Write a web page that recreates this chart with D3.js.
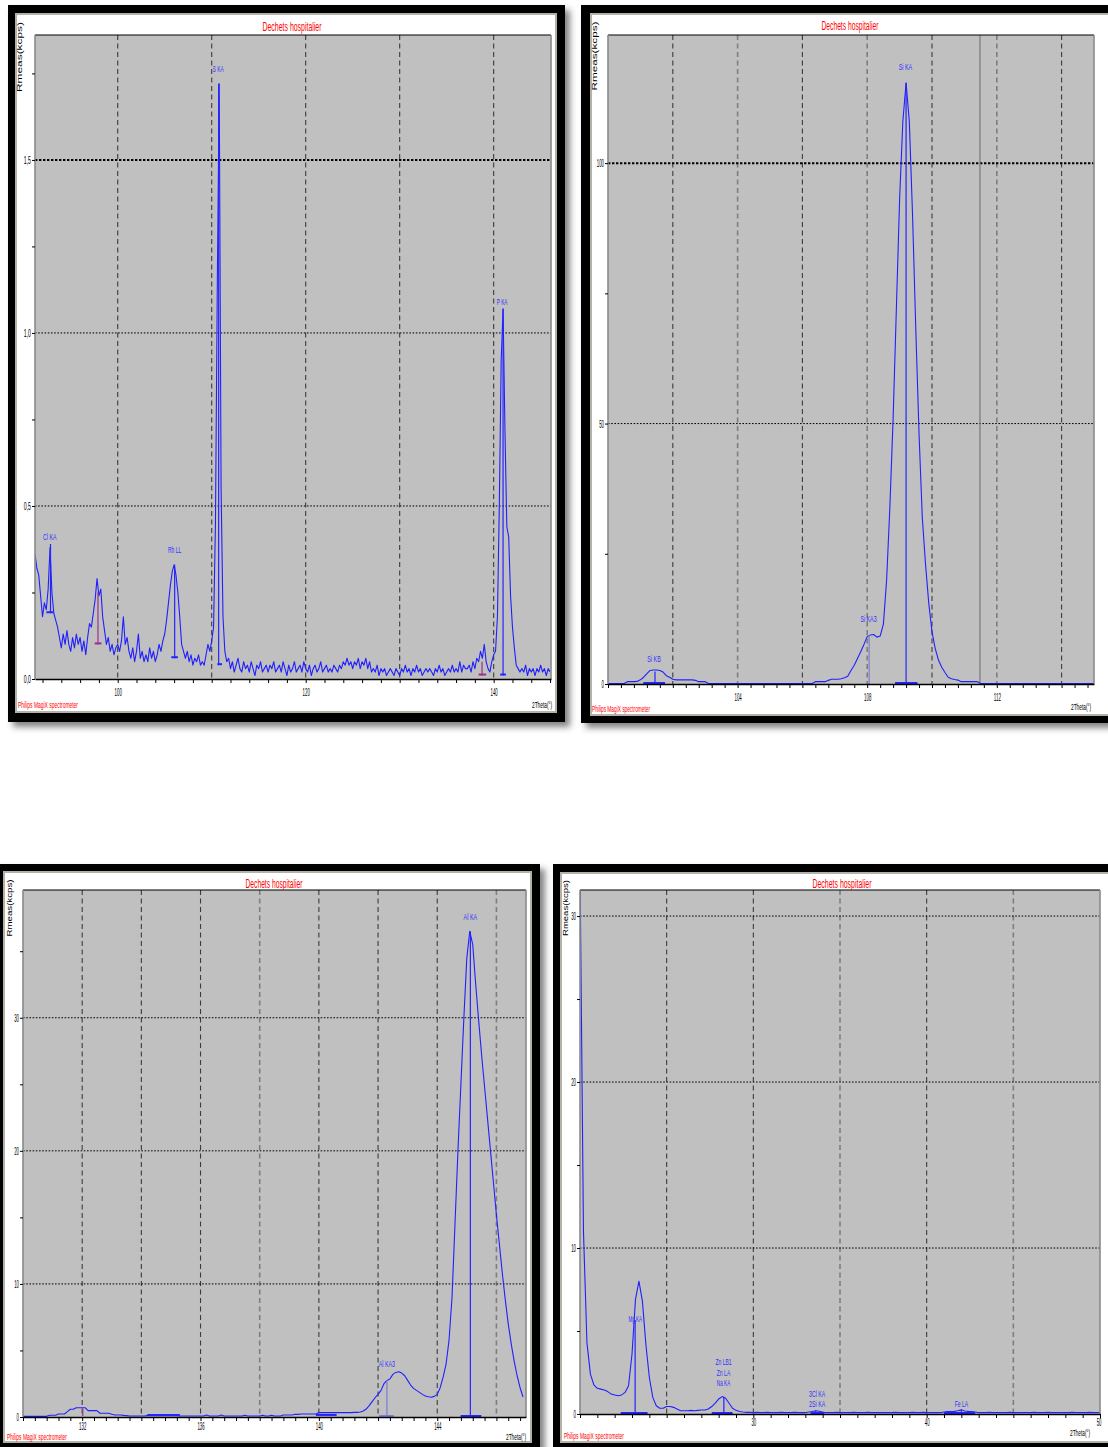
<!DOCTYPE html>
<html><head><meta charset="utf-8">
<script src="https://cdn.jsdelivr.net/npm/d3@7"></script>
<style>body{margin:0;background:#fff;} svg{display:block;}</style>
</head><body>
<script>
// ================= DATA =================
const titleText = "Dechets hospitalier";
const footerText = "Philips MagiX spectrometer";
const xTitleText = "2Theta(°)";
const yTitleText = "Rmeas(kcps)";

// ---- Panel A (top-left): 2Theta 91.2 .. 146.0, step 0.2 ----
const aStart = 91.2, aStep = 0.2;
const aCounts = [
0.36,0.32,0.30,0.24,0.18,0.22,0.20,0.26,0.38,0.25,
0.19,0.17,0.15,0.12,0.09,0.13,0.10,0.14,0.10,0.08,
0.12,0.09,0.13,0.10,0.12,0.08,0.11,0.07,0.12,0.16,
0.15,0.19,0.23,0.29,0.24,0.26,0.18,0.14,0.10,0.12,
0.08,0.10,0.07,0.09,0.10,0.08,0.11,0.18,0.10,0.12,
0.08,0.06,0.09,0.05,0.08,0.13,0.06,0.08,0.05,0.07,
0.05,0.09,0.06,0.08,0.05,0.07,0.10,0.08,0.11,0.13,
0.17,0.22,0.27,0.31,0.33,0.30,0.25,0.18,0.10,0.08,
0.06,0.08,0.05,0.07,0.04,0.06,0.05,0.07,0.04,0.05,
0.04,0.07,0.10,0.08,0.11,0.15,0.45,1.15,1.72,0.55,
0.18,0.08,0.05,0.06,0.03,0.05,0.02,0.04,0.06,0.03,
0.02,0.05,0.03,0.04,0.02,0.05,0.03,0.01,0.04,0.03,
0.05,0.02,0.03,0.04,0.02,0.04,0.03,0.05,0.02,0.03,
0.04,0.02,0.05,0.03,0.01,0.04,0.02,0.03,0.05,0.02,
0.03,0.04,0.02,0.05,0.03,0.02,0.04,0.01,0.03,0.04,
0.02,0.03,0.05,0.02,0.03,0.04,0.02,0.03,0.02,0.04,
0.03,0.02,0.04,0.03,0.05,0.04,0.06,0.04,0.05,0.03,
0.05,0.04,0.06,0.03,0.05,0.04,0.06,0.03,0.05,0.02,
0.03,0.02,0.04,0.01,0.03,0.02,0.03,0.01,0.02,0.03,
0.02,0.01,0.03,0.02,0.01,0.03,0.02,0.04,0.02,0.03,
0.01,0.03,0.02,0.04,0.02,0.03,0.01,0.02,0.03,0.02,
0.03,0.02,0.01,0.03,0.02,0.04,0.02,0.03,0.01,0.02,
0.03,0.02,0.04,0.02,0.03,0.02,0.05,0.02,0.04,0.03,
0.03,0.04,0.02,0.05,0.03,0.06,0.05,0.08,0.06,0.10,
0.05,0.03,0.02,0.05,0.07,0.08,0.18,0.50,0.92,1.07,
0.72,0.44,0.41,0.24,0.15,0.09,0.04,0.03,0.02,0.03,
0.02,0.04,0.01,0.03,0.02,0.03,0.01,0.03,0.02,0.04,
0.02,0.03,0.01,0.03,0.02];
const aXTicks = [100,120,140];
const aXTickLabels = ["100","120","140"];
const aYTicks = [0,0.5,1.0,1.5];
const aYTickLabels = ["0,0","0,5","1,0","1,5"];
const aPeakNames = ["Cl KA","Rh LL","S KA","P KA"];
const aPeakPos   = [92.77,106.06,110.69,140.9];
const aPeakLevel = [0.402,0.364,1.754,1.081];
// marker: [position, top, base, tick from, tick to, kind]
const aMarkers = [
 [92.85,0.39,0.19,92.41,93.12,"peak"],
 [97.9,0.25,0.10,97.55,98.27,"bg"],
 [106.06,0.33,0.06,105.7,106.4,"peak"],
 [110.74,1.72,0.04,110.6,111.1,"peak"],
 [138.76,0.05,0.01,138.4,139.2,"bg"],
 [141.0,1.07,0.01,140.7,141.3,"peak"]];

// ---- Panel B (top-right): 2Theta 100 .. 115, step 0.1 ----
const bStart = 100.0, bStep = 0.1;
const bCounts = [
0.1,0.1,0.1,0.1,0.1,0.1,0.45,0.45,0.45,0.5,
0.8,1.3,2.0,2.6,2.7,2.7,2.6,2.3,1.6,1.3,
0.9,0.8,0.8,0.8,0.8,0.8,0.8,0.7,0.45,0.45,
0.45,0.1,0.1,0.1,0.1,0.1,0.1,0.1,0.1,0.1,
0.1,0.1,0.1,0.1,0.1,0.1,0.1,0.1,0.1,0.1,
0.1,0.1,0.1,0.1,0.1,0.1,0.1,0.1,0.1,0.1,
0.1,0.1,0.1,0.1,0.45,0.45,0.45,0.45,0.7,0.9,
0.9,0.9,1.0,1.2,1.5,2.6,3.6,4.9,6.2,7.6,
9.1,9.4,9.5,9.0,9.2,11.5,20,34,51,72,
93,108,115.4,108,90,68,48,32,23,15.5,
10,6.8,4.6,3.2,2.2,1.3,1.0,0.85,0.75,0.45,
0.45,0.45,0.45,0.45,0.45,0.1,0.1,0.1,0.1,0.1,
0.1,0.1,0.1,0.1,0.1,0.1,0.1,0.1,0.1,0.1,
0.1,0.1,0.1,0.1,0.1,0.1,0.1,0.1,0.1,0.1,
0.1,0.1,0.1,0.1,0.1,0.1,0.1,0.1,0.1,0.1,
0.1];
const bXTicks = [104,108,112];
const bXTickLabels = ["104","108","112"];
const bYTicks = [0,50,100];
const bYTickLabels = ["0","50","100"];
const bPeakNames = ["Si KB","Si KA3","Si KA"];
const bPeakPos   = [101.42,108.04,109.18];
const bPeakLevel = [4.22,11.9,117.85];
const bMarkers = [
 [101.45,2.4,0,101.09,101.76,"peak"],
 [108.06,9.4,0,108.06,108.06,"ghost"],
 [109.2,115.4,0,108.86,109.55,"peak"]];
const bRefLines = [111.48];

// ---- Panel C (bottom-left): 2Theta 130.0 .. 146.9, step 0.1 ----
const cStart = 130.0, cStep = 0.1;
const cCounts = [
0.05,0.05,0.05,0.05,0.05,0.05,0.05,0.05,0.05,0.13,
0.13,0.13,0.23,0.23,0.23,0.40,0.58,0.58,0.70,0.70,
0.70,0.70,0.48,0.48,0.48,0.48,0.28,0.28,0.28,0.28,
0.20,0.15,0.15,0.15,0.12,0.10,0.08,0.08,0.08,0.08,
0.08,0.08,0.10,0.10,0.10,0.10,0.10,0.10,0.10,0.10,
0.10,0.10,0.10,0.08,0.08,0.08,0.08,0.08,0.08,0.08,
0.08,0.08,0.15,0.08,0.08,0.08,0.08,0.15,0.08,0.08,
0.08,0.08,0.08,0.08,0.08,0.13,0.08,0.08,0.08,0.08,
0.08,0.13,0.08,0.08,0.13,0.08,0.08,0.08,0.15,0.15,
0.15,0.15,0.20,0.20,0.23,0.23,0.23,0.23,0.23,0.23,
0.33,0.33,0.33,0.33,0.33,0.33,0.33,0.33,0.33,0.33,
0.33,0.33,0.35,0.35,0.38,0.45,0.60,0.85,1.15,1.45,
1.70,2.00,2.50,2.75,2.85,3.20,3.35,3.40,3.30,3.10,
2.75,2.40,2.15,2.00,1.85,1.70,1.58,1.52,1.48,1.55,
1.70,2.20,3.00,4.00,5.80,9.00,14.5,20.0,25.0,30.0,
34.5,36.5,35.5,32.5,29.8,27.2,24.8,22.4,20.0,17.6,
15.2,13.0,10.8,8.8,7.0,5.5,4.2,3.1,2.2,1.5];
const cXTicks = [132,136,140,144];
const cXTickLabels = ["132","136","140","144"];
const cYTicks = [0,10,20,30];
const cYTickLabels = ["0","10","20","30"];
const cPeakNames = ["Al KA3","Al KA"];
const cPeakPos   = [142.3,145.12];
const cPeakLevel = [3.76,37.37];
const cMarkers = [
 [132.02,0.63,0.08,132.02,132.02,"bg"],
 [134.7,0.08,0.08,134.2,135.3,"peak"],
 [140.25,0.08,0.08,139.9,140.6,"peak"],
 [142.3,2.78,0,142.04,142.53,"ghost"],
 [145.12,36.5,0,144.79,145.49,"peak"]];

// ---- Panel D (bottom-right): 2Theta 20 .. 50, step 0.2 ----
const dStart = 20.0, dStep = 0.2;
const dCounts = [
33,11,4.3,2.4,1.75,1.55,1.5,1.45,1.35,1.2,
1.15,1.1,1.15,1.3,1.7,3.6,6.9,8.0,6.8,4.2,
2.2,1.0,0.5,0.35,0.35,0.45,0.45,0.4,0.3,0.2,
0.2,0.2,0.22,0.2,0.22,0.24,0.24,0.3,0.45,0.65,
0.9,1.05,0.95,0.65,0.35,0.22,0.15,0.12,0.1,0.1,
0.08,0.1,0.08,0.08,0.1,0.08,0.08,0.08,0.1,0.08,
0.08,0.08,0.1,0.08,0.08,0.08,0.12,0.15,0.2,0.17,
0.12,0.08,0.08,0.08,0.1,0.08,0.08,0.08,0.08,0.1,
0.08,0.08,0.08,0.1,0.08,0.08,0.08,0.08,0.08,0.08,
0.08,0.1,0.08,0.08,0.08,0.08,0.1,0.08,0.08,0.1,
0.08,0.08,0.08,0.08,0.08,0.12,0.15,0.15,0.16,0.2,
0.25,0.18,0.16,0.15,0.12,0.08,0.08,0.08,0.1,0.08,
0.08,0.08,0.08,0.08,0.1,0.08,0.08,0.08,0.08,0.08,
0.08,0.1,0.08,0.08,0.08,0.1,0.08,0.08,0.08,0.08,
0.08,0.08,0.1,0.08,0.08,0.08,0.08,0.1,0.08,0.08,
0.08];
const dXTicks = [30,40,50];
const dXTickLabels = ["30","40","50"];
const dYTicks = [0,10,20,30];
const dYTickLabels = ["0","10","20","30"];
const dPeakNames = ["Mg KA","Zn LB1","Zn LA","Na KA","3Cl KA","2Si KA","Fe LA"];
const dPeakPos   = [23.19,28.28,28.28,28.28,33.68,33.68,42.01];
const dPeakLevel = [5.54,2.95,2.29,1.69,1.02,0.42,0.42];
const dMarkers = [
 [23.18,5.66,0,22.35,23.9,"peak"],
 [28.3,1.04,0,27.6,28.8,"peak"],
 [33.6,0.2,0,33.3,34.1,"peak"],
 [42.0,0.25,0,41.0,42.8,"peak"]];

// ================= LAYOUT / STYLE =================
const FONT = "'Liberation Sans Narrow','Arial Narrow','Liberation Sans',Arial,sans-serif";
const markerColor = {peak:"#2424ff", bg:"#9b2f8f", ghost:"#7c7cd0"};

const panels = [
 {id:"a", outer:[8,5,557,717], inner:[16,14,540,698], plot:{l:35,t:35,r:551,b:679},
  xDomain:[91.2,146.1], yMax:1.861, start:aStart, step:aStep, counts:aCounts,
  xMinor:2, grid:[100,110,120,130,140], light:[], xTicks:aXTicks, xLabels:aXTickLabels,
  yMinor:0.25, yTicks:aYTicks, yLabels:aYTickLabels, hThin:[0.5,1.0], hHeavy:[1.5],
  names:aPeakNames, pos:aPeakPos, lvl:aPeakLevel, markers:aMarkers, refs:[],
  title:[292,31,59], footer:[18,708,60], xTitle:[552,708], yTitle:[21.5,57,70], xLabDy:17},
 {id:"b", outer:[581,5,545,718], inner:[591,14,535,701], plot:{l:608,t:35,r:1094,b:684},
  xDomain:[100,115], yMax:124.6, start:bStart, step:bStep, counts:bCounts,
  xMinor:0.4, grid:[102,104,106,108,110,112,114], light:[104,108,112], xTicks:bXTicks, xLabels:bXTickLabels,
  yMinor:25, yTicks:bYTicks, yLabels:bYTickLabels, hThin:[50], hHeavy:[100],
  names:bPeakNames, pos:bPeakPos, lvl:bPeakLevel, markers:bMarkers, refs:bRefLines,
  title:[850,30,57], footer:[592,712,58], xTitle:[1091,710], yTitle:[597,56,69], xLabDy:17},
 {id:"c", outer:[-10,864,550,600], inner:[4,872,527,570], plot:{l:23,t:890,r:526,b:1417},
  xDomain:[130,147], yMax:39.6, start:cStart, step:cStep, counts:cCounts,
  xMinor:0.4, grid:[132,134,136,138,140,142,144,146], light:[138,146], xTicks:cXTicks, xLabels:cXTickLabels,
  yMinor:5, yTicks:cYTicks, yLabels:cYTickLabels, hThin:[10,20,30], hHeavy:[],
  names:cPeakNames, pos:cPeakPos, lvl:cPeakLevel, markers:cMarkers, refs:[],
  title:[274,888,57], footer:[7,1440,60], xTitle:[526,1440], yTitle:[11.5,908,57], xLabDy:13},
 {id:"d", outer:[553,864,570,600], inner:[561,873,560,569], plot:{l:580,t:890,r:1100,b:1414},
  xDomain:[20,50], yMax:31.57, start:dStart, step:dStep, counts:dCounts,
  xMinor:1, grid:[25,30,35,40,45], light:[35,45], xTicks:dXTicks, xLabels:dXTickLabels,
  yMinor:5, yTicks:dYTicks, yLabels:dYTickLabels, hThin:[10,20,30], hHeavy:[],
  names:dPeakNames, pos:dPeakPos, lvl:dPeakLevel, markers:dMarkers, refs:[],
  title:[842,888,59], footer:[564,1439,60], xTitle:[1090,1436], yTitle:[567.5,908,56], xLabDy:12}
];

// ================= DRAW =================
const svg = d3.select("body").append("svg").attr("width",1108).attr("height",1447);
const defs = svg.append("defs");
const f = defs.append("filter").attr("id","shadow").attr("x","-5%").attr("y","-5%").attr("width","115%").attr("height","115%");
f.append("feDropShadow").attr("dx",5).attr("dy",5).attr("stdDeviation",3).attr("flood-color","#333").attr("flood-opacity",0.6);

function narrow(sel, per){
  sel.each(function(){
    const s = d3.select(this), t = s.text();
    if (t && t.length) s.attr("textLength", Math.max(2, t.length*per)).attr("lengthAdjust","spacingAndGlyphs");
  });
}
const r3 = v => Math.round(v*1000)/1000;

panels.forEach(p => {
  const g = svg.append("g");
  const P = p.plot;
  // frame
  g.append("rect").attr("x",p.outer[0]).attr("y",p.outer[1]).attr("width",p.outer[2]).attr("height",p.outer[3])
    .attr("fill","#000").attr("filter","url(#shadow)");
  g.append("rect").attr("x",p.inner[0]).attr("y",p.inner[1]).attr("width",p.inner[2]).attr("height",p.inner[3])
    .attr("fill","#fff").attr("stroke","#b4b2a8").attr("stroke-width",2);

  const x = d3.scaleLinear().domain(p.xDomain).range([P.l,P.r]);
  const y = d3.scaleLinear().domain([0,p.yMax]).range([P.b,P.t]);

  g.append("rect").attr("x",P.l).attr("y",P.t).attr("width",P.r-P.l).attr("height",P.b-P.t).attr("fill","#c0c0c0");
  const clipId = "clip-"+p.id;
  defs.append("clipPath").attr("id",clipId).append("rect")
    .attr("x",P.l).attr("y",P.t).attr("width",P.r-P.l).attr("height",P.b-P.t);

  // vertical grid
  g.append("g").selectAll("line").data(p.grid).join("line")
    .attr("x1",d=>x(d)).attr("x2",d=>x(d)).attr("y1",P.t).attr("y2",P.b)
    .attr("stroke",d=>p.light.includes(d)?"#7e7e7e":"#3c3c3c")
    .attr("stroke-width",d=>p.light.includes(d)?1.6:1.1)
    .attr("stroke-dasharray","5,3.5");
  // horizontal grid
  g.append("g").selectAll("line").data(p.hThin).join("line")
    .attr("x1",P.l).attr("x2",P.r).attr("y1",d=>y(d)).attr("y2",d=>y(d))
    .attr("stroke","#000").attr("stroke-width",1).attr("stroke-dasharray","1.6,1.6");
  g.append("g").selectAll("line").data(p.hHeavy).join("line")
    .attr("x1",P.l).attr("x2",P.r).attr("y1",d=>y(d)).attr("y2",d=>y(d))
    .attr("stroke","#000").attr("stroke-width",2).attr("stroke-dasharray","2.4,1.6");
  // reference lines
  g.append("g").selectAll("line").data(p.refs).join("line")
    .attr("x1",d=>x(d)).attr("x2",d=>x(d)).attr("y1",P.t).attr("y2",P.b)
    .attr("stroke","#777").attr("stroke-width",1.2);

  // spectrum
  const pts = p.counts.map((v,i)=>[p.start + i*p.step, v]);
  const line = d3.line().x(d=>x(d[0])).y(d=>y(d[1]));
  g.append("path").datum(pts).attr("clip-path",`url(#${clipId})`)
    .attr("d",line).attr("fill","none").attr("stroke","#2020ff").attr("stroke-width",1.1)
    .attr("stroke-linejoin","round");

  // markers
  const mg = g.append("g").attr("clip-path",`url(#${clipId})`);
  p.markers.forEach(m => {
    const [pos, top, base, from, to, kind] = m;
    const c = markerColor[kind];
    if (top > base) mg.append("line").attr("x1",x(pos)).attr("x2",x(pos)).attr("y1",y(top)).attr("y2",y(base))
      .attr("stroke",c).attr("stroke-width",1.2);
    if (to > from) mg.append("line").attr("x1",x(from)).attr("x2",x(to)).attr("y1",y(base)-1).attr("y2",y(base)-1)
      .attr("stroke",c).attr("stroke-width",2);
  });

  // peak labels
  const lab = g.append("g").selectAll("text").data(p.names).join("text")
    .attr("x",(d,i)=>x(p.pos[i])).attr("y",(d,i)=>y(p.lvl[i]))
    .attr("text-anchor","middle").attr("font-family",FONT).attr("font-size",9.5)
    .attr("fill","#3030ff").text(d=>d);
  narrow(lab, 2.7);

  // plot borders
  g.append("line").attr("x1",P.l).attr("x2",P.r).attr("y1",P.t).attr("y2",P.t).attr("stroke","#000").attr("stroke-width",1.2);
  g.append("line").attr("x1",P.l).attr("x2",P.l).attr("y1",P.t).attr("y2",P.b).attr("stroke","#8a8a8a").attr("stroke-width",1.6);
  g.append("line").attr("x1",P.r).attr("x2",P.r).attr("y1",P.t).attr("y2",P.b).attr("stroke","#8a8a8a").attr("stroke-width",1.6);

  // x axis
  const xMinorTicks = d3.range(Math.ceil(p.xDomain[0]/p.xMinor-1e-6), Math.floor(p.xDomain[1]/p.xMinor+1e-6)+1)
    .map(k => r3(k*p.xMinor));
  const xAxis = d3.axisBottom(x).tickValues(xMinorTicks).tickSize(4).tickSizeOuter(0)
    .tickFormat(d => { const i = p.xTicks.findIndex(v => Math.abs(v-d) < 1e-6); return i>=0 ? p.xLabels[i] : ""; });
  const gx = g.append("g").attr("transform",`translate(0,${P.b})`).call(xAxis);
  gx.select(".domain").attr("stroke","#000").attr("stroke-width",1.6);
  gx.selectAll(".tick line").attr("stroke","#000");
  const xt = gx.selectAll(".tick text").attr("y",p.xLabDy).attr("dy",0)
    .attr("font-family",FONT).attr("font-size",10).attr("fill","#000");
  narrow(xt, 2.4);
  // keep the last label inside the frame
  gx.selectAll(".tick text").filter(function(){ return +this.parentNode.getAttribute("transform").match(/translate\(([\d.]+)/)[1] > 1095; })
    .attr("text-anchor","end").attr("x",1);

  // y axis
  const yMinorTicks = d3.range(0, Math.floor(p.yMax/p.yMinor+1e-6)+1).map(k => r3(k*p.yMinor));
  const yAxis = d3.axisLeft(y).tickValues(yMinorTicks).tickSize(3).tickSizeOuter(0)
    .tickFormat(d => { const i = p.yTicks.findIndex(v => Math.abs(v-d) < 1e-6); return i>=0 ? p.yLabels[i] : ""; });
  const gy = g.append("g").attr("transform",`translate(${P.l},0)`).call(yAxis);
  gy.select(".domain").remove();
  gy.selectAll(".tick line").attr("stroke","#000");
  const yt = gy.selectAll(".tick text").attr("x",-4).attr("dy","0.35em")
    .attr("font-family",FONT).attr("font-size",10).attr("fill","#000");
  narrow(yt, 2.4);

  // texts
  g.append("text").attr("x",p.title[0]).attr("y",p.title[1]).attr("text-anchor","middle")
    .attr("font-family",FONT).attr("font-size",12.5).attr("fill","#ff0000").text(titleText)
    .attr("textLength",p.title[2]).attr("lengthAdjust","spacingAndGlyphs");
  g.append("text").attr("x",p.footer[0]).attr("y",p.footer[1]).attr("text-anchor","start")
    .attr("font-family",FONT).attr("font-size",9.5).attr("fill","#ff0000").text(footerText)
    .attr("textLength",p.footer[2]).attr("lengthAdjust","spacingAndGlyphs");
  g.append("text").attr("x",p.xTitle[0]).attr("y",p.xTitle[1]).attr("text-anchor","end")
    .attr("font-family",FONT).attr("font-size",9).attr("fill","#000").text(xTitleText)
    .attr("textLength",20).attr("lengthAdjust","spacingAndGlyphs");
  g.append("text").attr("transform",`translate(${p.yTitle[0]},${p.yTitle[1]}) rotate(-90)`)
    .attr("text-anchor","middle").attr("font-family",FONT).attr("font-size",8).attr("fill","#000")
    .text(yTitleText).attr("textLength",p.yTitle[2]).attr("lengthAdjust","spacingAndGlyphs");
});
</script>
</body></html>
